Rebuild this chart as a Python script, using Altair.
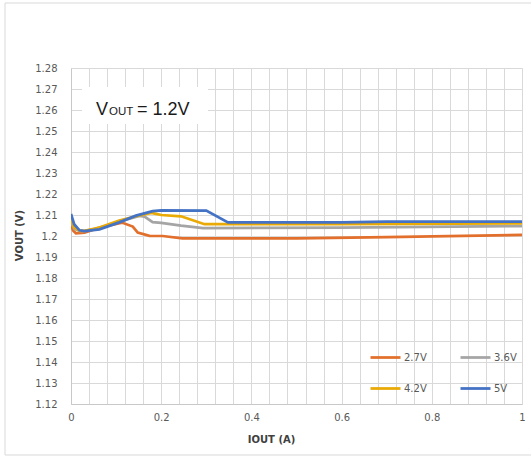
import altair as alt
import pandas as pd

# Output current (A) and output voltage (V) for each input voltage
iout_27 = [0, 0.005, 0.011, 0.03, 0.063, 0.113, 0.137, 0.148, 0.174, 0.203, 0.247, 0.5, 0.7, 1.0]
vout_27 = [1.205, 1.2025, 1.2013, 1.2016, 1.204, 1.2064, 1.2045, 1.2016, 1.2001, 1.2, 1.1989, 1.1989, 1.1995, 1.2005]

iout_36 = [0, 0.007, 0.019, 0.03, 0.063, 0.107, 0.152, 0.163, 0.181, 0.2, 0.244, 0.293, 0.6, 1.0]
vout_36 = [1.207, 1.2035, 1.2024, 1.2023, 1.2038, 1.207, 1.2096, 1.2092, 1.2066, 1.2062, 1.2049, 1.2037, 1.204, 1.2047]

iout_42 = [0, 0.007, 0.019, 0.03, 0.063, 0.107, 0.144, 0.178, 0.189, 0.2, 0.244, 0.296, 0.6, 1.0]
vout_42 = [1.208, 1.204, 1.2025, 1.2024, 1.204, 1.2073, 1.2094, 1.211, 1.2105, 1.21, 1.2094, 1.2056, 1.2057, 1.206]

iout_5 = [0, 0.007, 0.019, 0.03, 0.063, 0.107, 0.144, 0.181, 0.2, 0.3, 0.348, 0.6, 0.7, 1.0]
vout_5 = [1.2105, 1.2056, 1.2027, 1.2023, 1.2032, 1.2065, 1.2097, 1.2118, 1.2122, 1.2121, 1.2065, 1.2065, 1.2068, 1.2069]

series_names = ["2.7V", "3.6V", "4.2V", "5V"]
series_colors = ["#E2702C", "#A5A5A5", "#EAAA06", "#4472C4"]

y_ticks = [round(1.12 + 0.01 * i, 2) for i in range(17)]
x_grid = [round(0.04 * i, 2) for i in range(26)]

rows = []
for k, (name, xs, ys) in enumerate(zip(series_names,
                                       [iout_27, iout_36, iout_42, iout_5],
                                       [vout_27, vout_36, vout_42, vout_5])):
    for j, (xv, yv) in enumerate(zip(xs, ys)):
        rows.append({"series": name, "order": k, "idx": j, "iout": xv, "vout": yv})
df = pd.DataFrame(rows)

FONT = "DejaVu Sans"
LABEL_COLOR = "#595959"

lines = alt.Chart(df).mark_line(strokeWidth=2.75, clip=True).encode(
    x=alt.X(
        "iout:Q",
        scale=alt.Scale(domain=[0, 1], nice=False, zero=False),
        axis=alt.Axis(
            values=x_grid,
            labelExpr="abs(datum.value*5 - round(datum.value*5)) < 1e-6 ? format(datum.value, '~g') : ''",
            ticks=False,
            labelOverlap=False,
            labelFlush=False,
            labelPadding=8,
            title="IOUT (A)",
            titleX=200,
            titleY=35,
            titleBaseline="middle",
            titleAlign="center",
        ),
    ),
    y=alt.Y(
        "vout:Q",
        scale=alt.Scale(domain=[1.12, 1.28], nice=False, zero=False),
        axis=alt.Axis(
            values=y_ticks,
            format=".2~f",
            ticks=False,
            labelOverlap=False,
            labelFlush=False,
            labelPadding=14,
            title="VOUT (V)",
            titleAngle=-90,
            titleX=-52,
            titleY=167,
            titleAlign="center",
            titleBaseline="middle",
        ),
    ),
    color=alt.Color(
        "series:N",
        scale=alt.Scale(domain=series_names, range=series_colors),
        legend=alt.Legend(
            title=None,
            orient="none",
            direction="horizontal",
            legendX=298,
            legendY=273,
            columns=2,
            columnPadding=28,
            rowPadding=9,
            symbolType="stroke",
            symbolSize=900,
            symbolStrokeWidth=2.75,
            labelOffset=2,
            labelFontSize=10,
            labelFont=FONT,
            labelColor=LABEL_COLOR,
        ),
    ),
    detail="order:O",
    order="idx:Q",
)

one = pd.DataFrame({"k": [0]})

# Outer chart frame
frame = alt.Chart(one).mark_rect(fill=None, stroke="#d9d9d9", strokeWidth=1).encode(
    x=alt.value(-66), x2=alt.value(470), y=alt.value(-65), y2=alt.value(387)
)

# Label box with the output voltage setting
box = alt.Chart(one).mark_rect(fill="white").encode(
    x=alt.value(11), x2=alt.value(137), y=alt.value(19), y2=alt.value(56)
)
txt_v = alt.Chart(one).mark_text(
    text="V", font="Liberation Sans", fontSize=18, align="left", baseline="alphabetic", color="#1a1a1a"
).encode(x=alt.value(25), y=alt.value(47))
txt_out = alt.Chart(one).mark_text(
    text="OUT", font="Liberation Sans", fontSize=11.5, align="left", baseline="alphabetic", color="#1a1a1a"
).encode(x=alt.value(38), y=alt.value(47))
txt_eq = alt.Chart(one).mark_text(
    text="= 1.2V", font="Liberation Sans", fontSize=18, align="left", baseline="alphabetic", color="#1a1a1a"
).encode(x=alt.value(66), y=alt.value(47))

chart = alt.layer(frame, lines, box, txt_v, txt_out, txt_eq).properties(
    width=451,
    height=336,
    padding={"left": 71, "top": 68, "right": 9, "bottom": 53},
    autosize=alt.AutoSizeParams(type="none"),
    background="white",
).configure_view(stroke=None).configure_axis(
    grid=True,
    gridColor="#d9d9d9",
    gridWidth=1,
    domainColor="#c8c8c8",
    domainWidth=1,
    labelFont=FONT,
    labelFontSize=10,
    labelColor=LABEL_COLOR,
    titleFont=FONT,
    titleFontSize=10,
    titleFontWeight="bold",
    titleColor="#404040",
)

chart.save("out.html", embed_options={"renderer": "svg", "actions": False})
